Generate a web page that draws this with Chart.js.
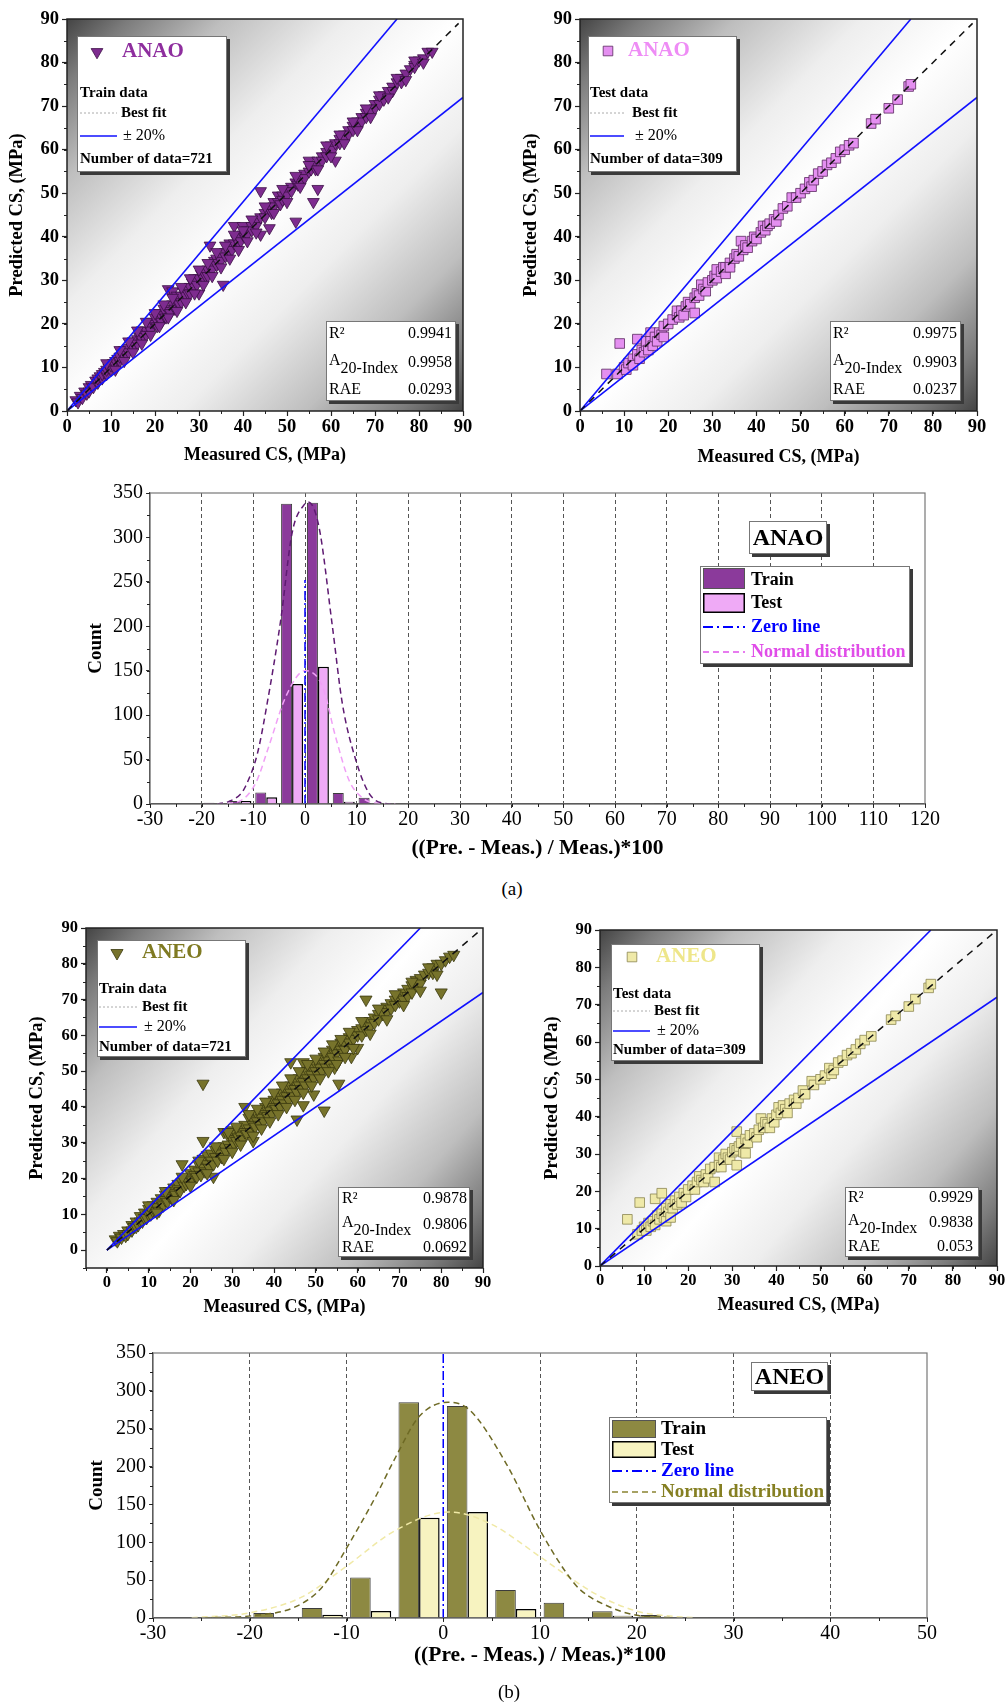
<!DOCTYPE html>
<html>
<head>
<meta charset="utf-8">
<script src="https://cdn.jsdelivr.net/npm/chart.js@4.4.1/dist/chart.umd.min.js"></script>
<style>
  body { margin: 0; background: #fff; width: 1007px; height: 1705px; position: relative; overflow: hidden; }
  canvas { position: absolute; }
  .cap { position: absolute; width: 60px; text-align: center; font: 19px 'Liberation Serif', serif; }
</style>
</head>
<body>
<canvas id="p1" width="490" height="470" style="left:0;top:0"></canvas>
<canvas id="p2" width="500" height="470" style="left:500px;top:0"></canvas>
<canvas id="h1" width="880" height="400" style="left:60px;top:470px"></canvas>
<div class="cap" style="left:482px;top:878px">(a)</div>
<canvas id="p3" width="500" height="420" style="left:0;top:900px"></canvas>
<canvas id="p4" width="487" height="420" style="left:520px;top:900px"></canvas>
<canvas id="h2" width="880" height="360" style="left:60px;top:1330px"></canvas>
<div class="cap" style="left:479px;top:1681px">(b)</div>
<script>
// ---- data ----
const csTicks = [0, 10, 20, 30, 40, 50, 60, 70, 80, 90];
const histATicks = [-30, -20, -10, 0, 10, 20, 30, 40, 50, 60, 70, 80, 90, 100, 110, 120];
const histBTicks = [-30, -20, -10, 0, 10, 20, 30, 40, 50];
const countTicks = [0, 50, 100, 150, 200, 250, 300, 350];

const bandUpper = [[0, 0], [75, 90]];
const bandLower = [[0, 0], [90, 72]];
const bestFit = [[0, 0], [89, 89]];

const anaoTrainPts = [[2,2.5],[2.5,2],[3,3.5],[3.5,3],[4,4.5],[4.5,4],[5,5.5],[5,4.5],[5.5,6],[6,5.5],[6.5,7],[7,6.5],[7,7.5],[7.5,8],[8,7.5],[8,8.5],[8.5,9],[9,8.5],[9,9.5],[9.5,10],[10,9.5],[10,10.5],[10.5,11],[11,10.5],[11,11.5],[11.5,12],[12,11.5],[12,12.5],[12.5,13.5],[13,12.5],[13,14],[13.5,13],[14,14.5],[14,13.5],[14.5,15.5],[15,14.5],[15,16],[15.5,15],[16,16.5],[16,15.5],[16.5,17],[17,16.5],[17,18.5],[17.5,17],[18,18.5],[18,17.5],[18.5,20],[19,19.5],[19,18.5],[19.5,20.5],[20,20],[20,21.5],[20.5,19.5],[21,21],[21,22.5],[21.5,20.5],[22,22],[22,23.5],[22.5,21.5],[23,23],[23,28],[23.5,22.5],[24,24.5],[24,27.5],[24.5,23.5],[25,25],[25,26.5],[25.5,24.5],[26,26.5],[26,25],[26.5,27.5],[27,26.5],[27,28],[27.5,27],[28,28.5],[28,27],[28.5,29.5],[29,28.5],[29,30.5],[29.5,29],[30,30.5],[30,27],[30.5,31.5],[31,30.5],[31,32],[31.5,31],[32,32.5],[32,31],[32.5,38],[33,33.5],[33,32.5],[33.5,34.5],[34,33.5],[34,35],[34.5,34],[35,35.5],[35,34.5],[35.5,29],[36,36.5],[36,35.5],[36.5,37.5],[37,36.5],[37,38.5],[37.5,37],[38,38.5],[38,42.5],[38.5,39.5],[39,38.5],[39,40],[39.5,39],[40,42.5],[40,40.5],[40.5,40],[41,41.5],[41,40.5],[42,42.5],[42,41.5],[43,43.5],[43,42.5],[44,50.5],[44,40.5],[44,44.5],[45,45.5],[45,44.5],[46,42],[46,46.5],[46.5,45.5],[47,48],[47,47],[48,49.5],[48,48],[48.5,47.5],[49,49.5],[49,48.5],[50,50.5],[50,49.5],[51,51.5],[51,50.5],[52,43.5],[52,52.5],[52.5,52],[53,53.5],[53,52.5],[54,54.5],[54,53.5],[55,57.5],[55,55],[55.5,55.5],[56,48],[56,56.5],[56.5,55.5],[57,51],[57,57.5],[58,58.5],[58,57.5],[59,59.5],[59,58.5],[60,60.5],[60,61],[60.5,60],[61,57.5],[61,61.5],[62,62.5],[62,61.5],[63,63.5],[63,62.5],[64,64.5],[64,63.5],[65,65.5],[65,64.5],[66,66.5],[66,65.5],[67,67.5],[67,66.5],[68,68.5],[68,67.5],[69,69],[70,70.5],[70,69.5],[71,71.5],[71,70.5],[72,72.5],[72,71.5],[73,73.5],[74,74.5],[74,73.5],[75,75.5],[76,76.5],[76,75.5],[77,77.5],[78,78.5],[79,79.5],[79,79],[80,80.5],[81,81],[82,82.5],[83,82.5],
  [9,11],[11,9.5],[12,14],[13,11.5],[14,16],[15,13.5],[16,18.5],[17,15.5],[18,20.5],[19,17.5],[20,22.5],[21,19.5],[22,24.5],[23,21.5],[24,26],[25,23],[26,28.5],[27,25],[28,30.5],[29,27],[30,32.5],[31,29],[32,34],[33,31],[34,36.5],[35,33],[36,38],[37,35],[38,40.5],[39,37],[40,41.5],[41,39],[42,44],[43,41],[45,47],[47,45.5],[49,51],[50,48],[52,54],[53,51.5],[55,56.5],[57,55.5],[59,61],[60,58.5],[62,63.5],[63,61.5],[65,66.5],[66,64.5],[68,69.5],[69,67.5],[71,72.5],[73,72],[75,76.5],[77,76],[79,80.5],[81,80]];

const anaoTestPts = [[6,8.5],[8.5,8.5],[9,15.5],[10,10],[10.5,9.5],[11,11],[12,12],[12,10.5],[13,16.5],[13,13],[13.5,12],[14,14],[14.5,13.5],[15,15],[15,16],[15.5,14],[16,18],[16,16],[16.5,15],[17,17],[17.5,16],[18,18],[18.5,17.5],[19,19.5],[19,17],[20,20],[21,21],[22,22],[22,23],[22.5,21.5],[23,23],[23.5,22],[24,24],[24.5,25],[25,24.5],[26,22.5],[26,26],[26.5,27],[27,26.5],[27.5,29],[28,28],[28.5,27.5],[29,29.5],[30,30],[30.5,31],[31,30.5],[31,32.5],[32,32],[32.5,33],[33,31.5],[33,33],[34,34],[34,33],[35,35],[35.5,36],[36,35.5],[36.5,39],[37,37],[37.5,38],[38,37.5],[39,39],[39.5,40],[40,39.5],[41,41],[41.5,42.5],[42,41.5],[42.5,42.5],[43,43],[44,44],[44.5,43.5],[45,45],[46,46.5],[47,47],[48,49],[49,49],[50,50],[51,51],[52,52.5],[52.5,51.5],[53,53],[54,54.5],[55,55],[56,56.5],[57,57],[58,58],[59,59.5],[60,60],[61,61],[62,61.5],[66,66],[67,67],[70,69.5],[72,71.5],[74.5,74.5],[75,75]];

const aneoTrainPts = [[2,3],[2.5,2.5],[3,4],[3.5,3.5],[4,4.5],[4.5,4],[5,5.5],[5,4.5],[6,7],[6,5.5],[6.5,6.5],[7,8],[7,6.5],[7.5,7],[8,9.5],[8,8],[8.5,8],[9,10.5],[9,9],[9.5,9],[10,11.5],[10,10],[10.5,10],[11,12.5],[11,11],[11.5,11],[12,13.5],[12,12],[12.5,11],[13,14.5],[13,13],[13.5,12.5],[14,15.5],[14,14],[14.5,13.5],[15,16.5],[15,15],[15.5,14.5],[16,17.5],[16,16],[16.5,15.5],[17,18.5],[17,17],[17.5,16.5],[18,24],[18,19],[18.5,18],[19,20],[19,18.5],[19.5,19],[20,21.5],[20,20],[20.5,19.5],[21,22.5],[21,21],[21.5,20.5],[22,24],[22,22],[22.5,21],[23,46.5],[23,30.5],[23,25.5],[23,23],[23.5,22],[24,26.5],[24,24],[24.5,23],[25,27],[25,25],[25.5,20.5],[25.5,24],[26,28],[26,26],[26.5,25],[27,28.5],[27,27],[27.5,26],[28,33],[28,29],[28.5,27.5],[29,32],[29,29.5],[29.5,28.5],[30,33.5],[30,31],[30.5,29.5],[31,32.5],[31,30.5],[31.5,31.5],[32,34],[32,32],[32.5,31],[33,40],[33,35],[33,33],[33.5,32.5],[34,37],[34,34],[34.5,33],[35,30.5],[35,36.5],[35,35],[35.5,34.5],[36,38],[36,36],[36.5,35],[37,39],[37,37],[37.5,36],[38,40],[38,38],[38.5,37.5],[39,41],[39,39],[39.5,38],[40,42],[40,40],[40.5,39.5],[41,43],[41,41],[41.5,40],[42,44],[42,42],[42.5,41],[43,45],[43,43],[43.5,42],[44,52.5],[44,46],[44,44],[44.5,43],[45,47],[45,45],[45.5,36.5],[45.5,44],[46,48],[46,46],[46.5,45],[47,52.5],[47,40.5],[47,49],[47,47],[47.5,46],[48,50],[48,48],[48.5,47],[49,51],[49,49],[49.5,43.5],[49.5,48],[50,52],[50,50],[50.5,49],[51,53],[51,51],[51.5,50],[52,39],[52,54],[52,52],[52.5,51],[53,55],[53,53],[53.5,52],[54,56],[54,54],[54.5,51],[55,57],[55,55],[55.5,46.5],[55.5,53],[56,58],[56,56],[56.5,55],[57,57.5],[57,56],[58,59.5],[58,58],[58.5,54],[59,60],[59,59],[60,61.5],[60,56.5],[60,60],[61,62],[61,60],[62,70],[62,63],[62,61.5],[63,64],[63,62.5],[64,65],[64,63.5],[65,66],[65,64.5],[66,67],[66,66],[67,68],[67,66.5],[68,69],[68,67.5],[69,70],[69,68.5],[70,70.5],[70,69.5],[71,72],[71,70],[72,73],[72,71],[73,74],[73,72],[74,75.5],[74,74],[75,76],[75,74.5],[76,77],[77,77.5],[78,79],[78,77.5],[79,80],[80,72],[80,80],[81,81],[82,82],[83,82.5],
  [10,12.5],[12,10.5],[14,16.5],[16,14],[18,20.5],[20,18],[22,25],[24,21.5],[26,29],[28,25.5],[29,33],[30,27.5],[31,34.5],[32,29.5],[34,38],[35,32],[36,39.5],[37,34],[38,41.5],[39,36],[40,44],[41,38],[42,46],[43,40],[44,48],[45,42],[46,50],[47,44],[48,52],[49,46],[50,53.5],[51,48],[52,55.5],[53,50],[54,57.5],[55,52],[56,59],[57,54],[58,61],[59,56.5],[61,64],[63,60.5],[65,67.5],[67,64.5],[69,71.5],[71,68.5],[73,75],[75,72.5],[77,79],[79,77]];

const aneoTestPts = [[6.2,12.5],[8.5,8.5],[9,17],[9.5,9.5],[10,10.5],[10.5,9.5],[11,11.5],[11.5,10.5],[12,12],[12.5,18],[12.5,11],[13,13.5],[13.5,12.5],[14,19.5],[14,14],[14.5,13],[15,15.5],[15,12],[15.5,14.5],[16,16.5],[16,13],[16.5,15.5],[17,17.5],[17.5,16.5],[18,18.5],[18.5,17],[19,19.5],[19.5,18.5],[20,20.5],[21,21.5],[21.5,20.5],[22,22.5],[22.5,24],[23,23],[23.5,22.5],[24,24.5],[24.5,23.5],[25,26],[26,22.5],[26,26.5],[27,29],[27,27],[27.5,26.5],[28,28.5],[28.5,30],[29,29],[29.5,28.5],[30,30.5],[30.5,31.5],[31,27],[31,36],[31,31],[31.5,32],[32,33],[32.5,30.5],[33,30.2],[33,34],[33.5,33],[34,35],[35,35.5],[35.5,34.5],[36,36.5],[36.5,39.5],[37,37],[37.5,38.5],[38,38],[38.5,37],[39,39.5],[39.5,38.5],[40,40.5],[40.5,42.5],[41,41],[41.5,43],[42,42],[42.5,41],[43,43.5],[44,44.5],[44.5,43.5],[45,45],[46,47],[46.5,46],[48,49.5],[48.5,48.5],[50,50],[51,51],[52,53],[52.5,51.5],[53,52.5],[54,54.5],[55,55],[56,56.5],[57,57],[58,58],[59,59.5],[60,60.5],[61.5,61.5],[66,66],[67,67],[70,69.5],[71.5,71.5],[74.5,74.5],[75,75.5]];

const statLabels = ['R²', 'A', '20-Index', 'RAE'];
const anaoTrainStats = ['0.9941', '0.9958', '0.0293'];
const anaoTestStats = ['0.9975', '0.9903', '0.0237'];
const aneoTrainStats = ['0.9878', '0.9806', '0.0692'];
const aneoTestStats = ['0.9929', '0.9838', '0.053'];

// histogram (a) ANAO
const anaoTrainBinX = [-17.5, -12.5, -7.5, -2.5, 2.5, 7.5, 12.5, 112.5];
const anaoTrainCount = [1.5, 3.5, 13, 338, 339, 12.5, 7, 0.8];
const anaoTestBinX = [-12.5, -7.5, -2.5, 2.5, 7.5, 12.5, 27.5, 37.5, 67.5];
const anaoTestCount = [3.5, 7.5, 135, 154.5, 2.6, 1, 0.8, 0.8, 0.8];
const anaoTrainCurveX = [-17, -14.7, -12.5, -11.5, -9.2, -7.3, -4.7, -2.5, 0, 0.6, 2.7, 5.3, 7.2, 9.8, 12.4, 15, 17];
const anaoTrainCurveY = [0, 3, 11, 20, 57, 114, 207, 305, 338, 340, 312, 200, 114, 50, 12, 1, 0];
const anaoTestCurveX = [-17, -12.8, -9.5, -7, -3.7, 0, 3.4, 5.9, 8.5, 11.1, 14, 17.5];
const anaoTestCurveY = [0, 3, 24, 65, 121, 150, 132, 76, 27, 7, 1, 0];
const zeroLineA = [[0, 0], [0, 252]];

// histogram (b) ANEO
const aneoTrainBinX = [-22.5, -17.5, -12.5, -7.5, -2.5, 2.5, 7.5, 12.5, 17.5, 22.5, 27.5, 32.5, 37.5, 42.5];
const aneoTrainCount = [1.5, 6.6, 13.2, 53.4, 285, 280, 37, 20, 9, 4, 1, 1, 1, 1];
const aneoTestBinX = [-22.5, -12.5, -7.5, -2.5, 2.5, 7.5, 12.5, 17.5, 22.5, 27.5];
const aneoTestCount = [1, 4.4, 9.3, 132.5, 140, 12, 1, 3, 1, 0.8];
const aneoTrainCurveX = [-24.6, -19.4, -15.3, -12.5, -10.1, -7, -4.9, -2.5, 0.5, 2.7, 6.5, 10, 12.7, 14.1, 17.2, 20, 23.4];
const aneoTrainCurveY = [0, 3.5, 14.6, 41, 90, 160, 213, 266, 285, 275, 204, 116, 60, 38, 14.6, 3.5, 0.5];
const aneoTestCurveX = [-26, -20.1, -14.6, -10.1, -4.9, 0.6, 4.8, 10, 13, 16, 20, 23, 26];
const aneoTestCurveY = [0.4, 6.6, 27.8, 67.5, 116, 140, 125, 81, 54, 30, 9, 3, 0.5];
const zeroLineB = [[0, 0], [0, 350]];

// ---- drawing ----
const FONT = "'Liberation Serif', 'Times New Roman', serif";
Chart.defaults.font.family = FONT;
Chart.defaults.color = '#000';

function pairs(list) { return list.map(p => ({ x: p[0], y: p[1] })); }
function zip(xs, ys) { return xs.map((x, i) => ({ x: x, y: ys[i] })); }

function shadowBox(ctx, x, y, w, h) {
  ctx.save();
  ctx.fillStyle = '#3a3a3a';
  ctx.fillRect(x + 3, y + 3, w, h);
  ctx.fillStyle = '#fff';
  ctx.fillRect(x, y, w, h);
  ctx.strokeStyle = '#777';
  ctx.lineWidth = 1;
  ctx.strokeRect(x + 0.5, y + 0.5, w - 1, h - 1);
  ctx.restore();
}

function drawMarker(ctx, shape, x, y, r, fill, edge) {
  ctx.beginPath();
  if (shape === 'triangle') {
    ctx.moveTo(x, y + r);
    ctx.lineTo(x - 0.866 * r, y - 0.5 * r);
    ctx.lineTo(x + 0.866 * r, y - 0.5 * r);
    ctx.closePath();
  } else {
    const s = r * Math.SQRT1_2;
    ctx.rect(x - s, y - s, 2 * s, 2 * s);
  }
  ctx.fillStyle = fill;
  ctx.fill();
  ctx.strokeStyle = edge;
  ctx.lineWidth = 0.8;
  ctx.stroke();
}

function hline(ctx, x0, x1, y) {
  ctx.beginPath();
  ctx.moveTo(x0, y);
  ctx.lineTo(x1, y);
  ctx.stroke();
}

function minorTicks(chart, xStep, yStep, len) {
  const { ctx, chartArea: a, scales: { x, y } } = chart;
  ctx.save();
  ctx.strokeStyle = '#222';
  ctx.lineWidth = 1;
  ctx.beginPath();
  for (let v = Math.ceil(x.min / xStep) * xStep; v <= x.max; v += xStep) {
    const px = Math.round(x.getPixelForValue(v)) + 0.5;
    ctx.moveTo(px, a.bottom);
    ctx.lineTo(px, a.bottom + len);
  }
  for (let v = Math.ceil(y.min / yStep) * yStep; v <= y.max; v += yStep) {
    const py = Math.round(y.getPixelForValue(v)) + 0.5;
    ctx.moveTo(a.left - len, py);
    ctx.lineTo(a.left, py);
  }
  ctx.stroke();
  ctx.restore();
}

function scatterDecor(o) {
  return {
    id: 'scatterDecor',
    beforeDraw(chart) {
      const { ctx, chartArea: a } = chart;
      const g = ctx.createLinearGradient(a.left, a.top, a.right, a.bottom);
      g.addColorStop(0, '#444');
      g.addColorStop(0.08, '#7c7c7c');
      g.addColorStop(0.2, '#bebebe');
      g.addColorStop(0.36, '#eeeeee');
      g.addColorStop(0.5, '#ffffff');
      g.addColorStop(0.64, '#eeeeee');
      g.addColorStop(0.8, '#bebebe');
      g.addColorStop(0.92, '#7c7c7c');
      g.addColorStop(1, '#444');
      ctx.save();
      ctx.fillStyle = g;
      ctx.fillRect(a.left, a.top, a.right - a.left, a.bottom - a.top);
      ctx.restore();
    },
    afterDraw(chart) {
      const { ctx, chartArea: a } = chart;
      ctx.save();
      ctx.strokeStyle = '#222';
      ctx.lineWidth = 1.5;
      ctx.strokeRect(a.left, a.top, a.right - a.left, a.bottom - a.top);
      ctx.restore();
      minorTicks(chart, 5, 5, 3);

      // legend box
      const L = o.legend;
      shadowBox(ctx, L.box[0], L.box[1], L.box[2], L.box[3]);
      drawMarker(ctx, o.shape, L.marker[0], L.marker[1], o.r, o.fill, o.edge);
      ctx.save();
      ctx.textAlign = 'left';
      ctx.textBaseline = 'middle';
      ctx.fillStyle = o.nameColor;
      ctx.font = 'bold 21px ' + FONT;
      ctx.fillText(o.name, L.nameX, L.marker[1]);
      ctx.fillStyle = '#000';
      ctx.font = 'bold 15px ' + FONT;
      ctx.fillText(o.head, L.x0, L.rows[0]);
      ctx.strokeStyle = '#aaa';
      ctx.lineWidth = 1;
      ctx.setLineDash([2, 2]);
      hline(ctx, L.x0, L.x1, L.rows[1]);
      ctx.fillText('Best fit', L.tx[0], L.rows[1]);
      ctx.setLineDash([]);
      ctx.strokeStyle = '#1010ff';
      ctx.lineWidth = 1.6;
      hline(ctx, L.x0, L.x1, L.rows[2]);
      ctx.font = '16px ' + FONT;
      ctx.fillText('± 20%', L.tx[1], L.rows[2]);
      ctx.font = 'bold 15px ' + FONT;
      ctx.fillText('Number of data=' + o.count, L.x0, L.rows[3]);
      ctx.restore();

      // statistics box
      const S = o.statBox;
      shadowBox(ctx, S.box[0], S.box[1], S.box[2], S.box[3]);
      ctx.save();
      ctx.fillStyle = '#000';
      ctx.textBaseline = 'middle';
      ctx.font = '16px ' + FONT;
      ctx.textAlign = 'left';
      ctx.fillText(statLabels[0], S.lx, S.rows[0]);
      ctx.fillText(statLabels[1], S.lx, S.rows[1] - 2);
      const aw = ctx.measureText(statLabels[1]).width;
      ctx.fillText(statLabels[2], S.lx + aw, S.rows[1] + 6);
      ctx.fillText(statLabels[3], S.lx, S.rows[2]);
      ctx.textAlign = 'right';
      o.stats.forEach((v, i) => ctx.fillText(v, S.vx, S.rows[i]));
      ctx.restore();
    }
  };
}

function scatterPanel(id, o) {
  return new Chart(document.getElementById(id), {
    type: 'scatter',
    data: {
      datasets: [
        { data: pairs(o.points), pointStyle: o.shape, pointRotation: o.shape === 'triangle' ? 180 : 0,
          pointRadius: o.r, pointBackgroundColor: o.fill, pointBorderColor: o.edge, pointBorderWidth: 0.8, order: 3 },
        { data: pairs(bandUpper), showLine: true, borderColor: '#1010ff', borderWidth: 1.6, pointRadius: 0, order: 1 },
        { data: pairs(bandLower), showLine: true, borderColor: '#1010ff', borderWidth: 1.6, pointRadius: 0, order: 1 },
        { data: pairs(bestFit), showLine: true, borderColor: '#111', borderWidth: 1.5, borderDash: [7, 6], pointRadius: 0, order: 0 }
      ]
    },
    options: {
      responsive: false,
      animation: false,
      events: [],
      layout: { padding: { top: o.padTop, right: o.padRight, left: 0, bottom: 0 } },
      plugins: { legend: { display: false }, tooltip: { enabled: false } },
      scales: {
        x: {
          type: 'linear', min: o.min, max: 90,
          afterBuildTicks: ax => { ax.ticks = csTicks.map(v => ({ value: v })); },
          afterFit: ax => { ax.height = o.xh; },
          border: { display: false },
          grid: { drawOnChartArea: false, tickLength: 5, tickColor: '#222', tickWidth: 1.2 },
          ticks: { font: { size: o.tickSize, weight: 'bold' }, color: '#000', padding: 0, maxRotation: 0, autoSkip: false },
          title: { display: true, text: 'Measured CS, (MPa)', color: '#000',
                   font: { size: 18, weight: 'bold' }, padding: { top: 0, bottom: o.xtPad } }
        },
        y: {
          type: 'linear', min: o.min, max: 90,
          afterBuildTicks: ax => { ax.ticks = csTicks.map(v => ({ value: v })); },
          afterFit: ax => { ax.width = o.yw; },
          border: { display: false },
          grid: { drawOnChartArea: false, tickLength: 5, tickColor: '#222', tickWidth: 1.2 },
          ticks: { font: { size: o.tickSize, weight: 'bold' }, color: '#000', padding: 3, autoSkip: false },
          title: { display: true, text: 'Predicted CS, (MPa)', color: '#000',
                   font: { size: 18.5, weight: 'bold' }, padding: { top: o.ytPad, bottom: 0 } }
        }
      }
    },
    plugins: [scatterDecor(o)]
  });
}

function histDecor(o) {
  return {
    id: 'histDecor',
    afterDraw(chart) {
      const { ctx, chartArea: a } = chart;
      ctx.save();
      ctx.strokeStyle = '#777';
      ctx.lineWidth = 1.2;
      ctx.strokeRect(a.left, a.top, a.right - a.left, a.bottom - a.top);
      ctx.restore();
      minorTicks(chart, 5, 25, 3);

      const L = o.legend;
      shadowBox(ctx, L.nameBox[0], L.nameBox[1], L.nameBox[2], L.nameBox[3]);
      ctx.save();
      ctx.fillStyle = '#000';
      ctx.textAlign = 'center';
      ctx.textBaseline = 'middle';
      ctx.font = 'bold 24px ' + FONT;
      ctx.fillText(o.name, L.nameBox[0] + L.nameBox[2] / 2, L.nameBox[1] + L.nameBox[3] / 2 + 1);
      ctx.restore();

      shadowBox(ctx, L.box[0], L.box[1], L.box[2], L.box[3]);
      ctx.save();
      const sw = L.sw;
      ctx.fillStyle = o.trainColor;
      ctx.fillRect(L.sx, L.sw1[0], sw, L.sw1[1] - L.sw1[0]);
      ctx.strokeStyle = '#555';
      ctx.lineWidth = 1;
      ctx.strokeRect(L.sx + 0.5, L.sw1[0] + 0.5, sw - 1, L.sw1[1] - L.sw1[0] - 1);
      ctx.fillStyle = o.testColor;
      ctx.fillRect(L.sx, L.sw2[0], sw, L.sw2[1] - L.sw2[0]);
      ctx.strokeStyle = '#000';
      ctx.lineWidth = 1.5;
      ctx.strokeRect(L.sx + 0.75, L.sw2[0] + 0.75, sw - 1.5, L.sw2[1] - L.sw2[0] - 1.5);
      ctx.strokeStyle = '#0000ff';
      ctx.lineWidth = 2;
      ctx.setLineDash([10, 4, 2, 4]);
      hline(ctx, L.sx, L.sx + sw, L.rows[2]);
      ctx.strokeStyle = o.legendCurveColor;
      ctx.lineWidth = 1.5;
      ctx.setLineDash([6, 4]);
      hline(ctx, L.sx, L.sx + sw, L.rows[3]);
      ctx.setLineDash([]);
      ctx.textAlign = 'left';
      ctx.textBaseline = 'middle';
      ctx.font = 'bold ' + L.font + 'px ' + FONT;
      ctx.fillStyle = '#000';
      ctx.fillText('Train', L.tx, L.rows[0]);
      ctx.fillText('Test', L.tx, L.rows[1]);
      ctx.fillStyle = '#0000ff';
      ctx.fillText('Zero line', L.tx, L.rows[2]);
      ctx.fillStyle = o.normalTextColor;
      ctx.fillText('Normal distribution', L.tx, L.rows[3]);
      ctx.restore();
    }
  };
}

function histPanel(id, o) {
  return new Chart(document.getElementById(id), {
    type: 'bar',
    data: {
      datasets: [
        { type: 'line', data: pairs(o.zero), borderColor: '#0000ff', borderWidth: 1.5, borderDash: [9, 3, 2, 3],
          pointRadius: 0, order: 0 },
        { type: 'line', data: zip(o.trainCurveX, o.trainCurveY), borderColor: o.trainCurveColor, borderWidth: 1.5,
          borderDash: [6, 4], pointRadius: 0, cubicInterpolationMode: 'monotone', order: 1 },
        { type: 'line', data: zip(o.testCurveX, o.testCurveY), borderColor: o.testCurveColor, borderWidth: 1.5,
          borderDash: [6, 4], pointRadius: 0, cubicInterpolationMode: 'monotone', order: 1 },
        { type: 'bar', data: zip(o.trainX, o.trainY), backgroundColor: o.trainColor, borderColor: '#3c3c3c',
          borderWidth: 1, categoryPercentage: 0.85, barPercentage: 1, order: 2 },
        { type: 'bar', data: zip(o.testX, o.testY), backgroundColor: o.testColor, borderColor: '#000',
          borderWidth: 1.5, categoryPercentage: 0.85, barPercentage: 1, order: 2 }
      ]
    },
    options: {
      responsive: false,
      animation: false,
      events: [],
      layout: { padding: { top: o.padTop, right: o.padRight, left: 0, bottom: 0 } },
      plugins: { legend: { display: false }, tooltip: { enabled: false } },
      scales: {
        x: {
          type: 'linear', min: o.ticks[0], max: o.ticks[o.ticks.length - 1], offset: false,
          afterBuildTicks: ax => { ax.ticks = o.ticks.map(v => ({ value: v })); },
          afterFit: ax => { ax.height = o.xh; },
          border: { display: true, color: '#333', width: 1.2, dash: [4, 3] },
          grid: {
            offset: false, lineWidth: 1, tickLength: 4, tickColor: '#333',
            color: c => {
              const v = c.tick ? c.tick.value : null;
              if (v === o.ticks[0] || v === o.ticks[o.ticks.length - 1] || (o.hideZeroGrid && v === 0)) return 'rgba(0,0,0,0)';
              return '#555';
            }
          },
          ticks: { font: { size: 20 }, color: '#000', padding: 0, maxRotation: 0, autoSkip: false },
          title: { display: true, text: '((Pre. - Meas.) / Meas.)*100', color: '#000',
                   font: { size: 21.5, weight: 'bold' }, padding: { top: 0, bottom: o.xtPad } }
        },
        y: {
          type: 'linear', min: 0, max: 350,
          afterBuildTicks: ax => { ax.ticks = countTicks.map(v => ({ value: v })); },
          afterFit: ax => { ax.width = o.yw; },
          border: { display: true, color: '#333', width: 1.2 },
          grid: { drawOnChartArea: false, tickLength: 4, tickColor: '#333' },
          ticks: { font: { size: 20 }, color: '#000', padding: 3, autoSkip: false },
          title: { display: true, text: 'Count', color: '#000',
                   font: { size: 19, weight: 'bold' }, padding: { top: o.ytPad, bottom: 0 } }
        }
      }
    },
    plugins: [histDecor(o)]
  });
}

scatterPanel('p1', {
  points: anaoTrainPts, shape: 'triangle', r: 6.8, fill: '#7e2c8f', edge: '#3b0f45',
  name: 'ANAO', nameColor: '#8e2e9e', head: 'Train data', count: '721', stats: anaoTrainStats,
  min: 0, padTop: 19, padRight: 27, yw: 67, xh: 59, tickSize: 18.5, xtPad: 4.2, ytPad: 5.9,
  legend: { box: [77, 36, 150, 136], marker: [97, 52], nameX: 122, x0: 80, x1: 117, tx: [121, 123], rows: [93, 113, 136, 159] },
  statBox: { box: [326, 321, 130, 80], lx: 329, vx: 452, rows: [334, 363, 390] }
});

scatterPanel('p2', {
  points: anaoTestPts, shape: 'rect', r: 6.8, fill: '#e48ff0', edge: '#5a2a60',
  name: 'ANAO', nameColor: '#ee8cf5', head: 'Test data', count: '309', stats: anaoTestStats,
  min: 0, padTop: 19, padRight: 23, yw: 80, xh: 59, tickSize: 18.5, xtPad: 2.2, ytPad: 19.9,
  legend: { box: [88, 36, 149, 136], marker: [108, 51], nameX: 128, x0: 90, x1: 124, tx: [132, 135], rows: [93, 113, 136, 159] },
  statBox: { box: [330, 321, 131, 80], lx: 333, vx: 457, rows: [334, 363, 390] }
});

histPanel('h1', {
  name: 'ANAO', ticks: histATicks, zero: zeroLineA, hideZeroGrid: false,
  trainX: anaoTrainBinX, trainY: anaoTrainCount, testX: anaoTestBinX, testY: anaoTestCount,
  trainCurveX: anaoTrainCurveX, trainCurveY: anaoTrainCurveY, testCurveX: anaoTestCurveX, testCurveY: anaoTestCurveY,
  trainColor: '#8b3a9b', testColor: '#efaaf6', trainCurveColor: '#5e1a72', testCurveColor: '#f0a0f6',
  legendCurveColor: '#e050ea', normalTextColor: '#e04ce8',
  padTop: 23, padRight: 14, yw: 90, xh: 66, xtPad: 9, ytPad: 24.6,
  legend: { nameBox: [689, 51, 78, 33], box: [640, 96, 210, 98], sx: 643, sw: 42, sw1: [98, 119], sw2: [123, 143],
            rows: [110, 133, 157, 182], tx: 691, font: 18 }
});

scatterPanel('p3', {
  points: aneoTrainPts, shape: 'triangle', r: 7, fill: '#77732b', edge: '#3a380f',
  name: 'ANEO', nameColor: '#7f7a22', head: 'Train data', count: '721', stats: aneoTrainStats,
  min: -5, padTop: 28, padRight: 17, yw: 86, xh: 52, tickSize: 16.5, xtPad: 2.2, ytPad: 25.9,
  legend: { box: [97, 40, 149, 117], marker: [117, 53], nameX: 142, x0: 99, x1: 137, tx: [142, 144], rows: [89, 107, 127, 147] },
  statBox: { box: [338, 287, 132, 70], lx: 342, vx: 467, rows: [299, 325, 348] }
});

scatterPanel('p4', {
  points: aneoTestPts, shape: 'rect', r: 6.8, fill: '#efe9a8', edge: '#8a8550',
  name: 'ANEO', nameColor: '#eee68a', head: 'Test data', count: '309', stats: aneoTestStats,
  min: 0, padTop: 30, padRight: 10, yw: 80, xh: 54, tickSize: 16.5, xtPad: 4.2, ytPad: 20.9,
  legend: { box: [91, 44, 149, 117], marker: [112, 57], nameX: 136, x0: 93, x1: 130, tx: [134, 137], rows: [94, 111, 131, 150] },
  statBox: { box: [325, 287, 134, 70], lx: 328, vx: 453, rows: [298, 323, 347] }
});

histPanel('h2', {
  name: 'ANEO', ticks: histBTicks, zero: zeroLineB, hideZeroGrid: true,
  trainX: aneoTrainBinX, trainY: aneoTrainCount, testX: aneoTestBinX, testY: aneoTestCount,
  trainCurveX: aneoTrainCurveX, trainCurveY: aneoTrainCurveY, testCurveX: aneoTestCurveX, testCurveY: aneoTestCurveY,
  trainColor: '#8d8942', testColor: '#f7f3c0', trainCurveColor: '#6e6a25', testCurveColor: '#f0e9a6',
  legendCurveColor: '#8a8430', normalTextColor: '#857f22',
  padTop: 23, padRight: 13, yw: 93, xh: 72, xtPad: 22, ytPad: 25.6,
  legend: { nameBox: [691, 32, 77, 29], box: [549, 87, 218, 86], sx: 552, sw: 44, sw1: [90, 108], sw2: [111, 128],
            rows: [99, 120, 141, 162], tx: 601, font: 19 }
});
</script>
</body>
</html>
